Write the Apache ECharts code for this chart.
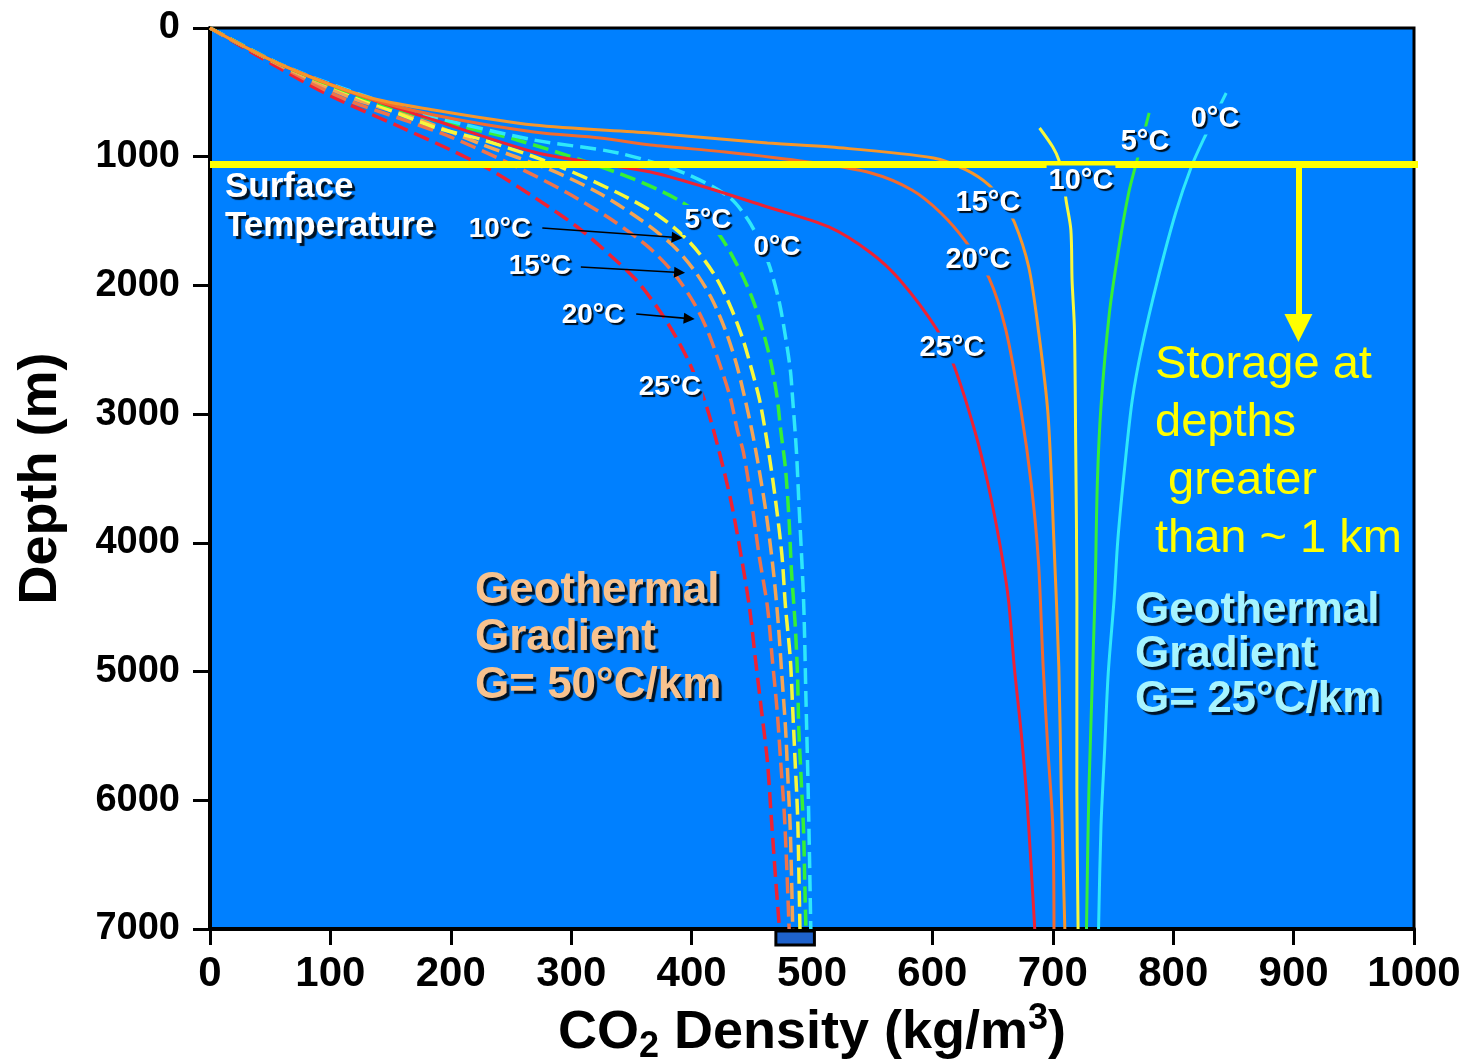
<!DOCTYPE html>
<html>
<head>
<meta charset="utf-8">
<script src="https://cdn.jsdelivr.net/npm/echarts@6/dist/echarts.min.js"></script>
<style>html,body{margin:0;padding:0;background:#fff}#c{width:1464px;height:1061px}</style>
</head>
<body>
<div id="c"></div>
<script>
// ---- data: [density kg/m3, depth m] ----
// Geothermal gradient 25 C/km (solid lines), surface temperature 0..25 C
const solid0  = [[844,505],[825,870],[815,1080],[802,1437],[787,1958],[774,2478],[766,2890],[760,3387],[754,3978],[751,4428],[746,5019],[743,5617],[740,6207],[738,7000]];
const solid5  = [[780,660],[770,1026],[763,1282],[755,1701],[747,2214],[740,2944],[737,3535],[735,4428],[730,5912],[728,7000]];
const solid10 = [[689,777],[700,925],[705,1026],[709,1181],[711,1336],[715,1569],[716,1958],[718,2346],[719,3240],[720,4428],[720,5912],[721,7000]];
const solid15 = [[0,0],[56,272],[131,536],[186,637],[269,754],[366,816],[463,893],[516,925],[601,1010],[628,1103],[647,1220],[657,1336],[668,1507],[680,1857],[688,2346],[696,2999],[701,4009],[705,4964],[707,5912],[710,7000]];
const solid20 = [[0,0],[56,272],[131,544],[186,676],[269,808],[324,855],[366,909],[428,963],[497,1041],[549,1127],[583,1259],[607,1437],[628,1663],[647,1942],[661,2346],[674,2999],[682,3535],[688,4133],[692,4964],[696,5617],[700,6207],[701,7000]];
const solid25 = [[0,0],[56,272],[131,544],[186,715],[269,963],[324,1055],[366,1119],[408,1228],[463,1391],[514,1546],[549,1748],[573,1958],[604,2346],[618,2626],[635,3123],[646,3535],[656,4009],[663,4428],[668,4964],[674,5500],[679,6060],[685,7000]];
// Geothermal gradient 50 C/km (dashed lines)
const dash0  = [[0,0],[56,272],[131,536],[186,691],[269,870],[339,971],[394,1127],[431,1313],[447,1492],[457,1670],[465,1857],[473,2137],[478,2401],[482,2657],[484,2890],[487,3279],[489,3667],[493,4444],[495,5221],[497,5998],[499,7000]];
const dash5  = [[0,0],[56,272],[128,544],[186,715],[255,870],[339,1127],[389,1336],[418,1546],[437,1826],[450,2090],[459,2346],[466,2603],[471,2867],[474,3123],[478,3426],[481,3830],[483,4226],[486,4630],[488,5034],[489,5438],[491,5834],[493,6238],[494,6643],[495,7000]];
const dash10 = [[0,0],[56,272],[125,544],[186,769],[227,870],[283,1049],[339,1282],[374,1468],[399,1670],[418,1903],[431,2137],[442,2401],[450,2657],[457,2913],[464,3294],[470,3690],[475,4094],[478,4498],[482,4902],[484,5298],[486,5702],[488,6106],[489,6510],[490,7000]];
const dash15 = [[0,0],[55,272],[116,536],[175,715],[227,909],[283,1103],[323,1282],[358,1492],[384,1686],[402,1880],[416,2090],[428,2346],[437,2603],[444,2867],[450,3123],[455,3372],[462,3776],[468,4226],[472,4630],[475,5034],[478,5438],[480,5834],[482,6238],[484,7000]];
const dash20 = [[0,0],[54,272],[108,536],[166,730],[200,847],[255,1080],[297,1282],[334,1492],[364,1701],[385,1903],[402,2137],[413,2346],[423,2603],[432,2867],[438,3123],[443,3294],[450,3690],[456,4094],[463,4498],[467,4902],[471,5298],[474,5702],[477,6106],[479,6510],[481,7000]];
const dash25 = [[0,0],[50,272],[102,536],[158,769],[200,948],[233,1103],[269,1313],[305,1546],[334,1779],[354,1958],[373,2191],[387,2401],[399,2618],[412,2929],[423,3294],[433,3690],[441,4094],[448,4498],[453,4902],[458,5298],[463,5702],[466,6106],[469,6510],[473,7000]];
// storage depth line (~1 km), its arrow, label pointer arrows, bottom marker range
const storageDepth = 1060;
const storageArrow = [[904,1060],[904,2330]];
const labelArrows = [[[276,1554],[388,1628]],[[308,1857],[390,1900]],[[354,2222],[398,2258]]];
const endRange = [[470,502]];
const xTicks = {min:0, max:1000, interval:100};
const yTicks = {min:0, max:7000, interval:1000};

const C = {cyan:'#2EE8FA', green:'#36F036', yellow:'#F8F83C', or15:'#F7962A', or20:'#F26A2E', red:'#EE2233', dor15:'#F4A455', dor20:'#EF744A'};
const FONT = '"Liberation Sans", Arial, Helvetica, sans-serif';

function curve(data, color, dashed){
  return {type:'line', data:data, symbol:'none', showSymbol:false, smooth:0.3, silent:true, z:3,
    lineStyle:{color:color, width: dashed?3.5:3, type: dashed?[16,7]:'solid'}};
}

const series = [
  curve(dash25, C.red, true), curve(dash20, C.dor20, true), curve(dash15, C.dor15, true),
  curve(dash10, C.yellow, true), curve(dash5, C.green, true), curve(dash0, C.cyan, true),
  curve(solid25, C.red, false), curve(solid20, C.or20, false), curve(solid15, C.or15, false),
  curve(solid10, C.yellow, false), curve(solid5, C.green, false), curve(solid0, C.cyan, false),
  {type:'line', data:[[0,storageDepth],[1010,storageDepth]], symbol:'none', clip:false, silent:true, z:10,
   lineStyle:{color:'#FFFF00', width:7},
   markLine:{silent:true, animation:false, precision:0, label:{show:false}, symbol:['none','triangle'],
     data:[
       [{coord:storageArrow[0], lineStyle:{color:'#FFFF00', width:6, type:'solid'}}, {coord:storageArrow[1], symbolSize:28}]
     ].concat(labelArrows.map(a => [{coord:a[0], lineStyle:{color:'#000', width:1.6, type:'solid'}}, {coord:a[1], symbolSize:11}]))
   }},
  {type:'custom', data:endRange, clip:false, silent:true, z:6,
   renderItem:function(params, api){
     const a = api.coord([api.value(0), yTicks.max]);
     const b = api.coord([api.value(1), yTicks.max]);
     return {type:'rect', shape:{x:a[0], y:a[1]+2, width:b[0]-a[0], height:14}, style:{fill:'#1E62CC', stroke:'#000', lineWidth:3}};
   }}
];

function tlabel(x, y, text, size){
  return {type:'text', x:x, y:y, z:100, silent:true, style:{text:text, font:'bold '+(size||28)+'px '+FONT, fill:'#fff',
    align:'center', verticalAlign:'middle', backgroundColor:'#0080FF', padding:[1,2],
    textShadowColor:'rgba(0,0,0,0.9)', textShadowBlur:1, textShadowOffsetX:2, textShadowOffsetY:2}};
}
function block(x, y, text, size, color, lh, weight){
  return {type:'text', x:x, y:y, z:100, silent:true, style:{text:text, font:(weight||'bold')+' '+size+'px '+FONT, fill:color,
    align:'left', verticalAlign:'middle', lineHeight:lh,
    textShadowColor: weight==='normal' ? 'transparent' : 'rgba(0,0,0,0.85)', textShadowBlur:1, textShadowOffsetX:3, textShadowOffsetY:3}};
}

const graphic = [
  tlabel(500,229,'10°C'), tlabel(540,266,'15°C'), tlabel(593,315,'20°C'), tlabel(670,387,'25°C'),
  tlabel(708,220,'5°C'), tlabel(777,247,'0°C'),
  tlabel(1215,119,'0°C',29), tlabel(1145,142,'5°C',29), tlabel(1081,181,'10°C',29),
  tlabel(988,203,'15°C',29), tlabel(978,260,'20°C',29), tlabel(952,348,'25°C',29),
  block(225,207,'Surface\nTemperature',35,'#FFFFFF',39),
  block(475,638,'Geothermal\nGradient\nG= 50°C/km',44,'#F7C28E',47.5),
  block(1135,655,'Geothermal\nGradient\nG= 25°C/km',44,'#A6F4FF',44.5),
  block(1155,452,'Storage at\ndepths\n greater\nthan ~ 1 km',47,'#FFFF00',57.7,'normal')
];

const plain = v => String(v);
const chart = echarts.init(document.getElementById('c'), null, {renderer:'canvas'});
chart.setOption({
  animation:false,
  backgroundColor:'#ffffff',
  grid:{left:210, top:28, right:50, bottom:132, show:true, backgroundColor:'#0080FF', borderColor:'#000', borderWidth:3, containLabel:false, outerBoundsMode:'none'},
  xAxis:{type:'value', min:xTicks.min, max:xTicks.max, interval:xTicks.interval, position:'bottom',
    axisLine:{show:true, onZero:false, lineStyle:{color:'#000', width:4}},
    axisTick:{show:true, length:16, lineStyle:{color:'#000', width:3}},
    axisLabel:{show:true, margin:24, color:'#000', fontSize:42, fontWeight:'bold', fontFamily:FONT, formatter:plain},
    splitLine:{show:false},
    name:'{a|CO}{sub|2}{a| Density (kg/m}{sup|3}{a|)}', nameLocation:'middle', nameGap:72,
    nameTextStyle:{color:'#000', rich:{
      a:{fontSize:54, fontWeight:'bold', fontFamily:FONT, color:'#000', lineHeight:64},
      sub:{fontSize:36, fontWeight:'bold', fontFamily:FONT, color:'#000', lineHeight:48, verticalAlign:'bottom'},
      sup:{fontSize:36, fontWeight:'bold', fontFamily:FONT, color:'#000', lineHeight:38, verticalAlign:'top'}
    }}},
  yAxis:{type:'value', inverse:true, min:yTicks.min, max:yTicks.max, interval:yTicks.interval,
    axisLine:{show:true, onZero:false, lineStyle:{color:'#000', width:4}},
    axisTick:{show:true, length:17, lineStyle:{color:'#000', width:3}},
    axisLabel:{show:true, margin:30, color:'#000', fontSize:38, fontWeight:'bold', fontFamily:FONT, formatter:plain},
    splitLine:{show:false},
    name:'Depth (m)', nameLocation:'middle', nameRotate:90, nameGap:142,
    nameTextStyle:{color:'#000', fontSize:54, fontWeight:'bold', fontFamily:FONT}},
  series:series,
  graphic:graphic
});
</script>
</body>
</html>
